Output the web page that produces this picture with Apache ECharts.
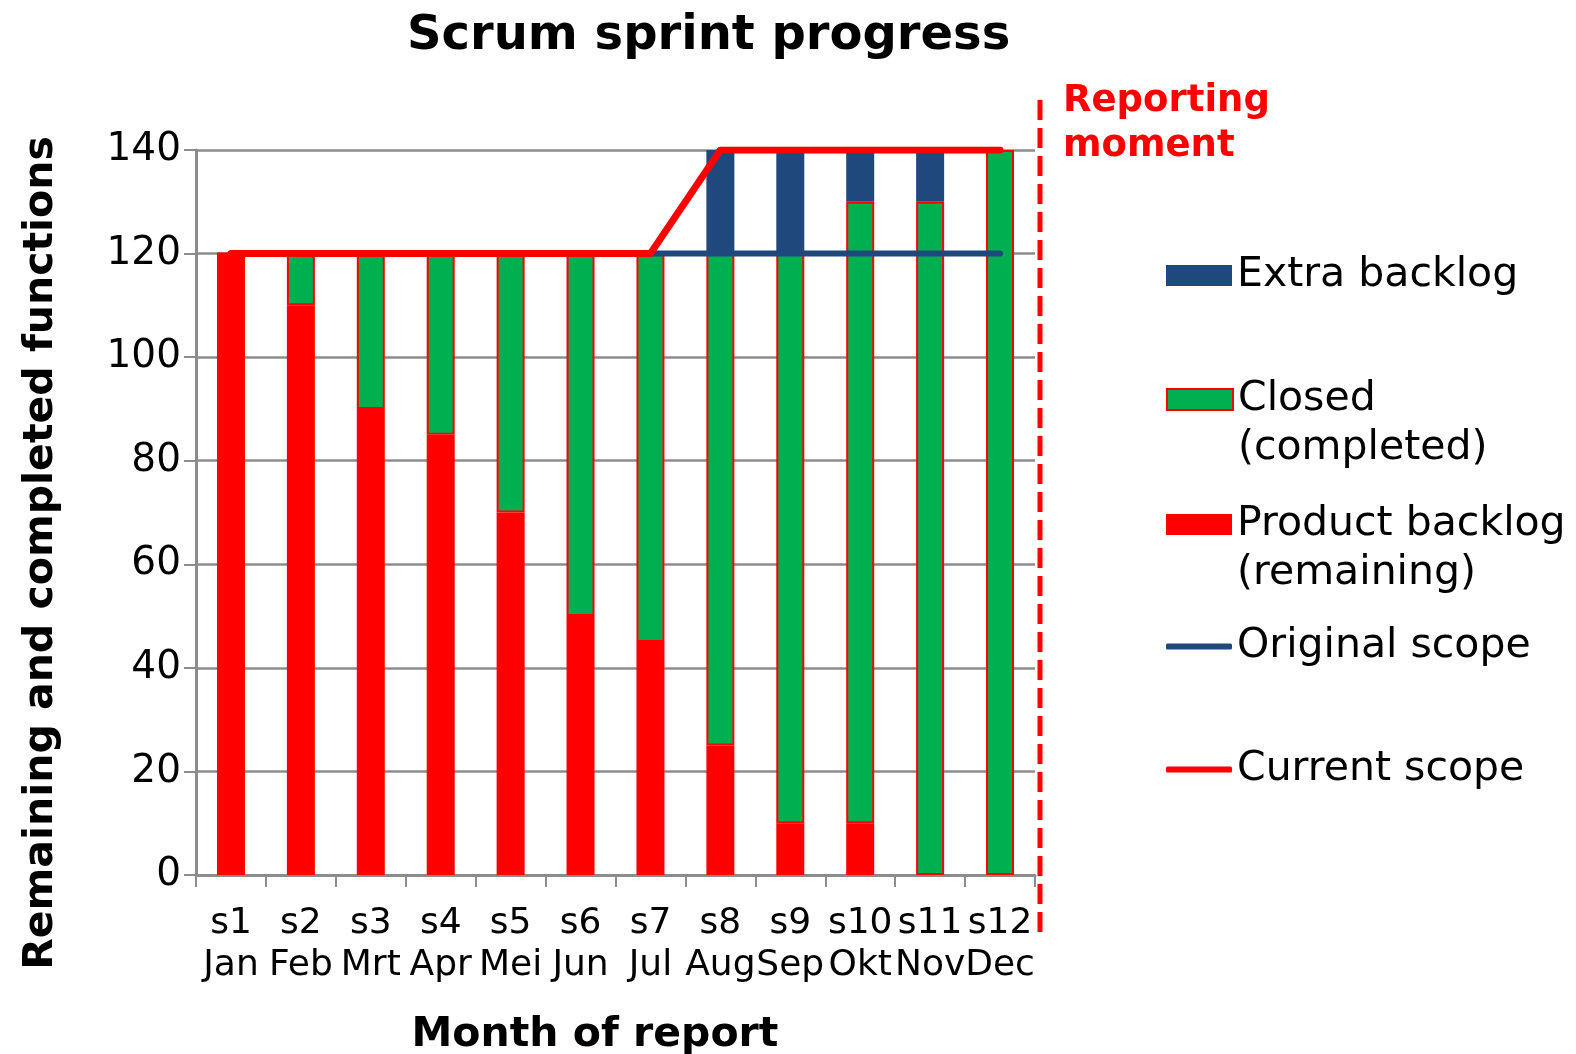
<!DOCTYPE html>
<html>
<head>
<meta charset="utf-8">
<script src="https://cdn.jsdelivr.net/npm/echarts@6/dist/echarts.min.js"></script>
<style>
  html, body { margin: 0; padding: 0; background: #fff; }
  #chart { width: 1576px; height: 1054px; }
</style>
</head>
<body>
<div id="chart"></div>
<script>
// data
var sprints = ['s1', 's2', 's3', 's4', 's5', 's6', 's7', 's8', 's9', 's10', 's11', 's12'];
var months = ['Jan', 'Feb', 'Mrt', 'Apr', 'Mei', 'Jun', 'Jul', 'Aug', 'Sep', 'Okt', 'Nov', 'Dec'];
var productBacklog = [120, 110, 90, 85, 70, 50, 45, 25, 10, 10, 0, 0];
var closedDone = [0, 10, 30, 35, 50, 70, 75, 95, 110, 120, 130, 140];
var extraBacklog = [0, 0, 0, 0, 0, 0, 0, 20, 20, 10, 10, 0];
var originalScope = [120, 120, 120, 120, 120, 120, 120, 120, 120, 120, 120, 120];
var currentScope = [120, 120, 120, 120, 120, 120, 120, 140, 140, 140, 140, 140];
var yTicks = [0, 20, 40, 60, 80, 100, 120, 140];

var RED = '#ff0000', GREEN = '#00b050', NAVY = '#1f497d', GREY = '#8c8c8c';
var FONT = 'DejaVu Sans';

var chart = echarts.init(document.getElementById('chart'));

// one legend per entry so the irregular spacing can be matched
function legendItem(name, top, opts) {
  return {
    data: [name],
    left: 1166,
    top: top,
    padding: 0,
    icon: opts.line ? 'roundRect' : 'rect',
    itemWidth: 66,
    itemHeight: opts.line ? 6 : 21,
    selectedMode: false,
    // two-line names: empty first line keeps the icon on the first text line
    formatter: function (n) {
      return opts.twoLines ? '\n' + n.replace(' (', '\n(') : n;
    },
    textStyle: { fontFamily: FONT, fontSize: 41, color: '#000', lineHeight: 49 }
  };
}

chart.setOption({
  animation: false,
  title: {
    text: 'Scrum sprint progress',
    left: 407,
    top: 13,
    padding: 0,
    textStyle: { fontFamily: FONT, fontSize: 48, fontWeight: 'bold', color: '#000' }
  },
  legend: [
    legendItem('Extra backlog', 251, {}),
    legendItem('Closed (completed)', 326, { twoLines: true }),
    legendItem('Product backlog (remaining)', 451, { twoLines: true }),
    legendItem('Original scope', 622, { line: true }),
    legendItem('Current scope', 745, { line: true })
  ],
  grid: { left: 196, right: 541, top: 150, bottom: 179, outerBoundsMode: 'none' },
  xAxis: {
    type: 'category',
    data: sprints,
    name: 'Month of report',
    nameLocation: 'middle',
    nameGap: 140,
    nameTextStyle: {
      fontFamily: FONT, fontSize: 41, fontWeight: 'bold', color: '#000',
      padding: [0, 41, 0, 0]
    },
    axisLine: { lineStyle: { color: GREY, width: 3 } },
    axisTick: { show: true, length: 12, lineStyle: { color: GREY, width: 2 } },
    axisLabel: {
      interval: 0,
      hideOverlap: false,
      margin: 28,
      fontFamily: FONT, fontSize: 36, lineHeight: 42, color: '#000',
      formatter: function (v, i) { return v + '\n' + months[i]; }
    }
  },
  yAxis: {
    type: 'value',
    min: yTicks[0],
    max: yTicks[yTicks.length - 1],
    interval: 20,
    name: 'Remaining and completed functions',
    nameLocation: 'middle',
    nameRotate: 90,
    nameGap: 134,
    nameTextStyle: {
      fontFamily: FONT, fontSize: 41, fontWeight: 'bold', color: '#000',
      padding: [0, 81, 0, 0]
    },
    axisLine: { show: true, lineStyle: { color: GREY, width: 3 } },
    axisTick: { show: true, length: 12, lineStyle: { color: GREY, width: 2 } },
    axisLabel: { margin: 15, fontFamily: FONT, fontSize: 39, color: '#000' },
    splitLine: { show: true, lineStyle: { color: GREY, width: 2.5 } }
  },
  series: [
    {
      name: 'Product backlog (remaining)',
      type: 'bar',
      stack: 'total',
      barWidth: 28,
      itemStyle: { color: RED },
      data: productBacklog
    },
    {
      name: 'Closed (completed)',
      type: 'bar',
      stack: 'total',
      barWidth: 28,
      itemStyle: { color: GREEN, borderColor: RED, borderWidth: 2 },
      data: closedDone
    },
    {
      name: 'Extra backlog',
      type: 'bar',
      stack: 'total',
      barWidth: 28,
      itemStyle: { color: NAVY },
      data: extraBacklog
    },
    {
      name: 'Original scope',
      type: 'line',
      symbol: 'none',
      z: 5,
      lineStyle: { color: NAVY, width: 6, cap: 'round' },
      itemStyle: { color: NAVY },
      data: originalScope
    },
    {
      name: 'Current scope',
      type: 'line',
      symbol: 'none',
      z: 6,
      lineStyle: { color: RED, width: 7, cap: 'round', join: 'round' },
      itemStyle: { color: RED },
      data: currentScope
    }
  ],
  graphic: [
    {
      type: 'line',
      shape: { x1: 1040, y1: 100, x2: 1040, y2: 935 },
      style: { stroke: RED, lineWidth: 5, lineDash: [20, 8] },
      z: 10
    },
    {
      type: 'text',
      left: 1063,
      top: 79,
      style: {
        text: 'Reporting\nmoment',
        fill: RED,
        font: 'bold 37px "DejaVu Sans"',
        lineHeight: 45
      }
    }
  ]
});
</script>
</body>
</html>
